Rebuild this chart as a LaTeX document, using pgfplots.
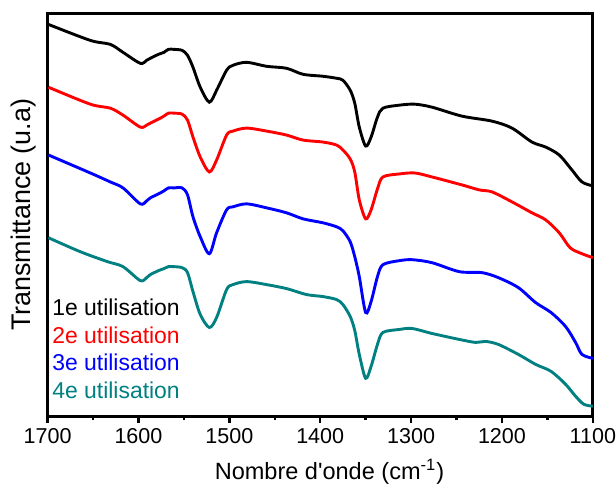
\documentclass[border={2pt 0pt 0pt 6pt}]{standalone}
\usepackage{pgfplots}
\pgfplotsset{compat=1.18}
\usepackage{fontspec}
\setmainfont{Liberation Sans}
\definecolor{cteal}{RGB}{0,128,128}

\begin{document}
\begin{tikzpicture}
\begin{axis}[
    scale only axis,
    width=273.5pt, height=202pt,
    x dir=reverse,
    xmin=1100, xmax=1700,
    ymin=0, ymax=404,
    xtick={1100,1200,...,1700},
    minor xtick={1150,1250,...,1650},
    xtick pos=bottom,
    tick align=outside,
    major tick length=3.5pt,
    minor tick length=2pt,
    ytick=\empty,
    axis line style={line width=1.5pt},
    every tick/.style={line width=1.2pt, black},
    xticklabel style={font=\fontsize{10.8}{12}\selectfont, inner xsep=0pt, yshift=0.7pt},
    /pgf/number format/assume math mode=true,
    /pgf/number format/1000 sep={},
    xlabel={Nombre d\textquotesingle onde (cm\textsuperscript{-1})},
    ylabel={Transmittance (u.a)},
    xlabel style={font=\fontsize{11.8}{13}\selectfont, at={(axis description cs:0.517,-0.156)}, anchor=base, inner ysep=1pt},
    ylabel style={font=\fontsize{13.5}{15}\selectfont, at={(axis description cs:-0.032,0.5)}, anchor=base},
    every axis plot/.append style={line width=1.45pt, smooth, tension=0.5},
]
% 1e utilisation
\addplot[black] coordinates {
(1699,393) (1653,377) (1631,373) (1617,365) (1598,354) (1591,357) (1587,359)
(1578,363) (1572,365) (1567,368) (1561,368) (1552,367) (1546,362) (1540,350)
(1532,330) (1522,315) (1514,327)
(1503,347) (1496,352) (1481,355) (1459,351) (1437,349) (1419,343) (1397,341)
(1382,339) (1375,337) (1367,327) (1362,314) (1357,290) (1350,271) (1344,280)
(1337,300) (1331,309)
(1313,312) (1296,313) (1277,310) (1244,301) (1211,296) (1189,289) (1167,275)
(1152,270) (1137,262) (1123,247) (1112,235) (1100,231)};
% 2e utilisation
\addplot[red] coordinates {
(1699,330) (1653,313) (1631,309) (1617,302) (1598,290) (1591,292) (1587,294)
(1578,298) (1572,301) (1567,304) (1561,304) (1552,303) (1546,297) (1540,280)
(1532,260) (1522,245) (1514,257)
(1503,282) (1496,286) (1481,289) (1459,286) (1437,282) (1419,277) (1397,275)
(1382,272) (1375,267) (1367,258) (1362,245) (1357,217) (1350,198) (1344,207)
(1337,228) (1331,240)
(1313,243) (1296,244) (1277,240) (1244,232) (1225,227) (1211,225) (1189,215)
(1167,204) (1152,197) (1137,184) (1125,169) (1112,163) (1100,159)};
% 3e utilisation
\addplot[blue] coordinates {
(1699,262) (1653,244) (1631,235) (1617,229) (1598,213) (1591,216) (1587,219)
(1578,223) (1572,226) (1567,229) (1561,229) (1552,229) (1546,222) (1540,200)
(1532,180) (1522,163) (1514,184)
(1503,207) (1496,210) (1481,213) (1459,209) (1437,204) (1419,198) (1397,194)
(1382,190) (1375,186) (1367,175) (1362,160) (1357,140) (1350,104) (1344,115)
(1337,140) (1331,152)
(1313,156) (1299,157) (1277,154) (1247,145) (1222,144) (1204,139) (1182,129)
(1163,114) (1146,104) (1130,90) (1119,74) (1112,62) (1100,58)};
% 4e utilisation
\addplot[cteal] coordinates {
(1699,179) (1664,165) (1634,155) (1617,150) (1598,136) (1591,139) (1587,142)
(1578,146) (1572,148) (1567,150) (1561,150) (1552,149) (1546,144) (1540,125)
(1532,102) (1522,89) (1514,99)
(1503,127) (1496,132) (1481,135) (1459,132) (1437,128) (1415,122) (1397,120)
(1382,117) (1375,112) (1367,100) (1362,86) (1357,62) (1350,38) (1344,50)
(1337,72) (1331,84)
(1313,87) (1299,88) (1277,83) (1247,77) (1229,74) (1218,75) (1204,72)
(1182,62) (1163,52) (1146,45) (1130,32) (1119,20) (1110,12) (1100,10)};
\node[anchor=west, inner sep=0pt, text=black, font=\fontsize{11.5}{13}\selectfont] at (rel axis cs:0.008,0.270) {1e utilisation};
\node[anchor=west, inner sep=0pt, text=red, font=\fontsize{11.5}{13}\selectfont] at (rel axis cs:0.008,0.201) {2e utilisation};
\node[anchor=west, inner sep=0pt, text=blue, font=\fontsize{11.5}{13}\selectfont] at (rel axis cs:0.008,0.133) {3e utilisation};
\node[anchor=west, inner sep=0pt, text=cteal, font=\fontsize{11.5}{13}\selectfont] at (rel axis cs:0.008,0.064) {4e utilisation};
\end{axis}
\end{tikzpicture}
\end{document}
